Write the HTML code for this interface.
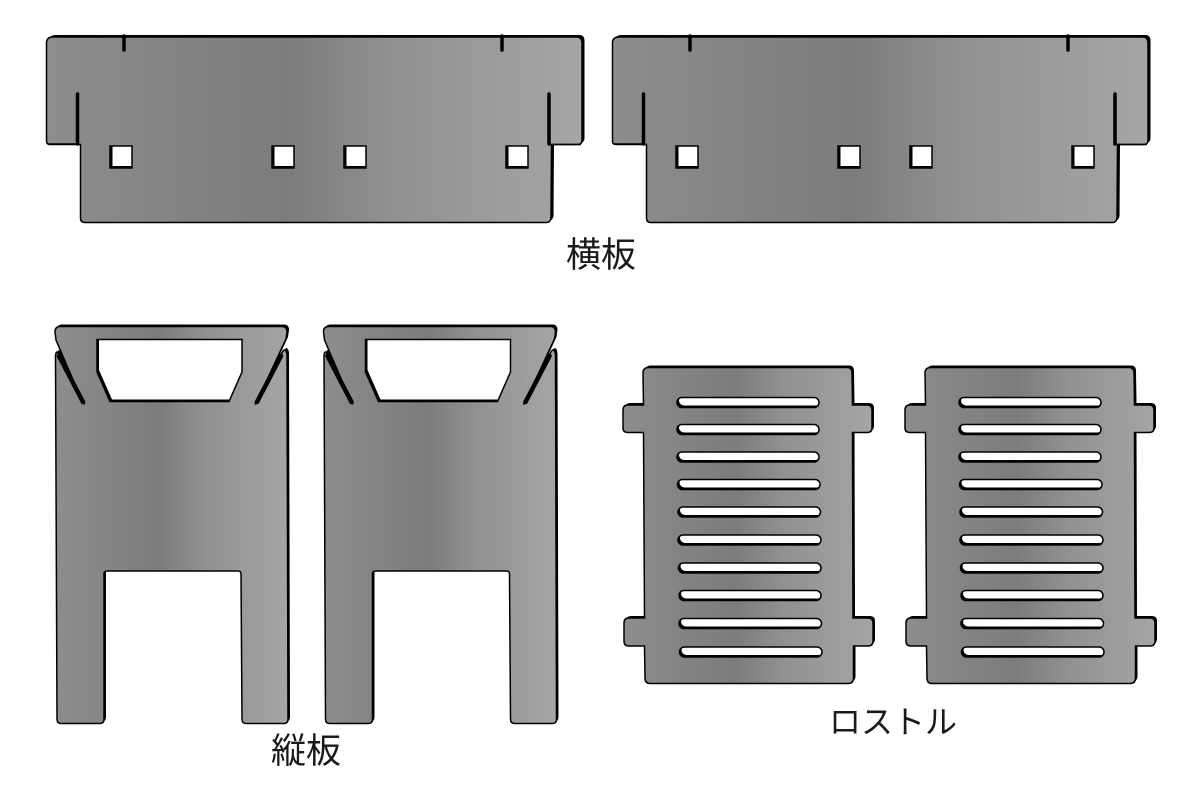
<!DOCTYPE html>
<html><head><meta charset="utf-8"><style>
html,body{margin:0;padding:0;background:#fff}
svg{display:block}
text{font-family:"Liberation Sans","Noto Sans CJK JP",sans-serif;font-size:35px;fill:#1a1a1a}
</style></head><body>
<svg xmlns="http://www.w3.org/2000/svg" width="1201" height="801" viewBox="0 0 1201 801">
<defs>
<linearGradient id="g"><stop offset="0" stop-color="#8d8d8d"/><stop offset=".25" stop-color="#838384"/><stop offset=".45" stop-color="#7b7c7e"/><stop offset=".65" stop-color="#919191"/><stop offset="1" stop-color="#a6a5a3"/></linearGradient>
<path id="yoko" fill-rule="evenodd" d="M53 37H577Q582 37 582 43V140Q582 144.500 578 144.500H551.500L551 218Q550 222.500 547 222.500H85Q80.500 222.500 80.500 218V144.500H50Q46.500 144.500 46.500 141V43Q46.500 37 53 37ZM110 146V168H132V146ZM272 146V168H294V146ZM344 146V168H366V146ZM506 146V168H528V146Z"/>
<path id="tate" fill-rule="evenodd" d="M60 326.500H282Q287 326.500 287 332L286 339L256 403.500Q255 405 255.500 402L283 351Q286 348 287 355L288 719Q288 723.500 284 723.500H246Q242 723.500 242 719L241 574Q241 571 238 571H107Q104 571 104 574L104 719Q104 723.500 100 723.500H61Q57 723.500 57 719L55.500 356Q56 350 58 353L84 402Q85 405 83 403L56 340L55 332Q55 326.500 60 326.500ZM97 339.500V372L110 401.500H229L242 372V339.500Z"/>
<path id="rost" fill-rule="evenodd" d="M649 367.500H847Q852 367.500 852 373L852.500 405H867Q872 405 872 410V428Q872 432.500 867 432.500H852.500L853 618H868Q873 618 873 623V641Q873 646 868 646H853.500L853.500 678Q853.500 683.500 848 683.500H650Q645 683.500 645 678L644.500 646H629Q624 646 624 641V623Q624 618 629 618H644.500L643.500 432.500H628Q623 432.500 623 428V410Q623 405 628 405H643.500L643 373Q643 367.500 649 367.500Z
M682 397.500H814A5 5 0 0 1 814 407.500H682A5 5 0 0 1 682 397.500Z
M682 424.500H814A5 5 0 0 1 814 434.500H682A5 5 0 0 1 682 424.500Z
M682 452H814A5 5 0 0 1 814 462H682A5 5 0 0 1 682 452Z
M682.500 479.500H815A5 5 0 0 1 815 489.500H682.500A5 5 0 0 1 682.500 479.500Z
M683 507H815.500A5 5 0 0 1 815.500 517H683A5 5 0 0 1 683 507Z
M683 535H816A5 5 0 0 1 816 545H683A5 5 0 0 1 683 535Z
M683.500 563H816A5 5 0 0 1 816 573H683.500A5 5 0 0 1 683.500 563Z
M684 590.500H816A5 5 0 0 1 816 600.500H684A5 5 0 0 1 684 590.500Z
M684 618.500H816.500A5 5 0 0 1 816.500 628.500H684A5 5 0 0 1 684 618.500Z
M684.500 647H817A5 5 0 0 1 817 657H684.500A5 5 0 0 1 684.500 647Z"/>
<g id="p1"><use href="#yoko" x="2.500" y="-2" fill="#000"/><use href="#yoko" fill="url(#g)" stroke="#000" stroke-width="1.500"/>
<path d="M124 36V50M502 36V50" stroke="#000" stroke-width="3.500" fill="none" stroke-linecap="round"/>
<path d="M77.500 94V144M549 94V144" stroke="#000" stroke-width="3.500" fill="none" stroke-linecap="round"/>
<path d="M79 144H47.500M551 144.500H581" stroke="#000" stroke-width="1.500" fill="none"/></g>
<g id="p2"><use href="#tate" x="2" y="-2" fill="#000"/><use href="#tate" fill="url(#g)" stroke="#000" stroke-width="1.500"/>
<path d="M59 356L83 402M257 402L281 356" stroke="#000" stroke-width="4.500" fill="none" stroke-linecap="round"/></g>
<g id="p3"><use href="#rost" x="2" y="-2" fill="#000"/><use href="#rost" fill="url(#g)" stroke="#000" stroke-width="1.500"/></g>
</defs>
<use href="#p1"/>
<use href="#p1" x="566"/>
<use href="#p2"/>
<use href="#p2" x="268.500"/>
<use href="#p3"/>
<use href="#p3" x="282"/>
<text x="566" y="267">横板</text>
<text x="271" y="763">縦板</text>
<text x="829" y="733" style="font-size:32px">ロストル</text>
</svg>
</body></html>
